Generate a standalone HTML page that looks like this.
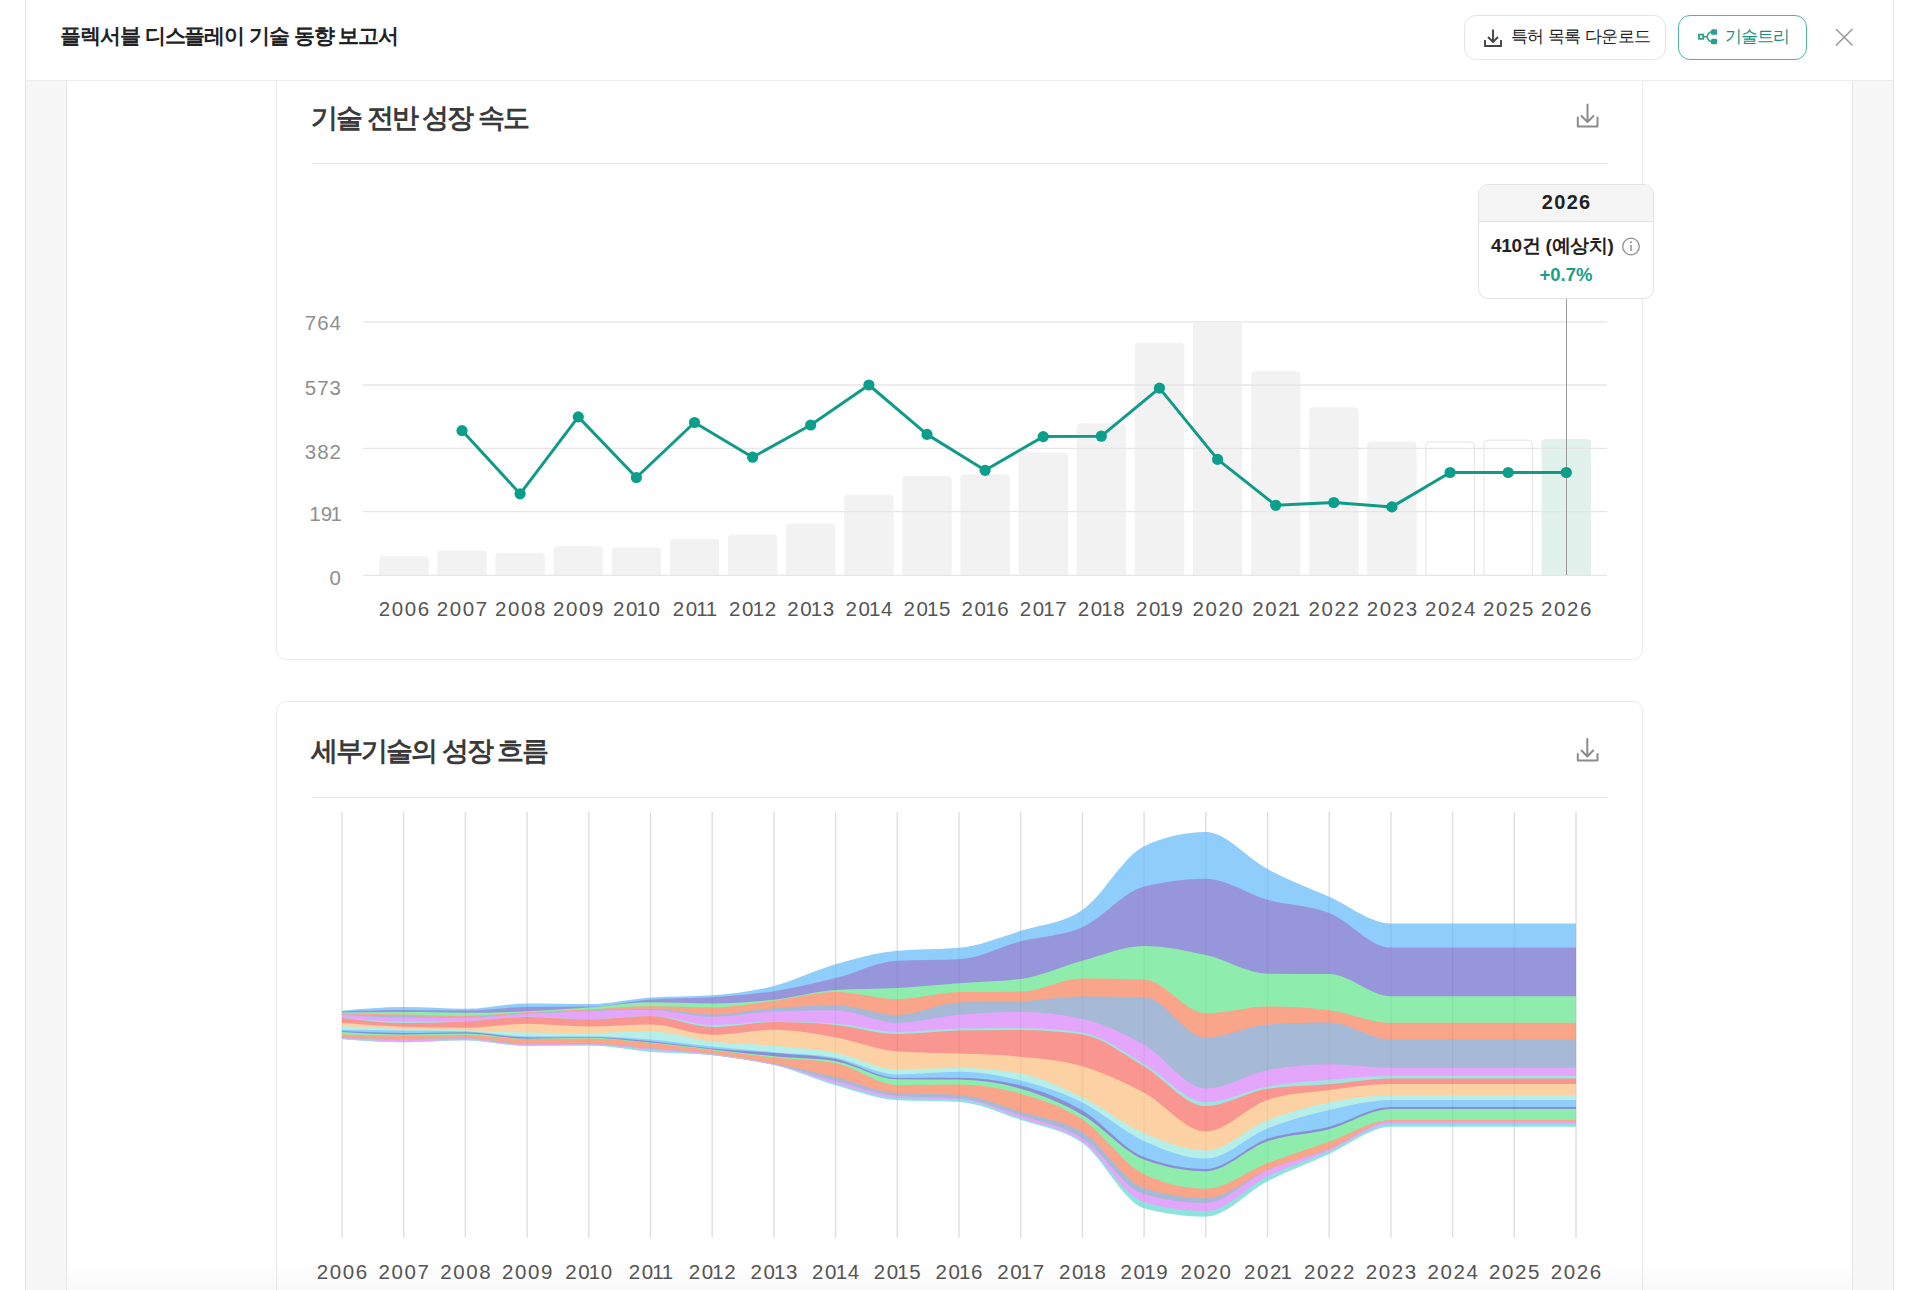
<!DOCTYPE html>
<html lang="ko">
<head>
<meta charset="utf-8">
<title>플렉서블 디스플레이 기술 동향 보고서</title>
<style>
*{box-sizing:border-box;margin:0;padding:0}
html,body{width:1920px;height:1290px;overflow:hidden;background:#fff;font-family:"Liberation Sans",sans-serif;color:#222}
.abs{position:absolute}
.frame{position:absolute;left:25px;top:0;width:1869px;height:1290px;border-left:1px solid #e3e3e3;border-right:1px solid #e3e3e3;background:#fff}
.hdr{position:absolute;left:26px;top:0;width:1867px;height:81px;border-bottom:1px solid #ececec;background:#fff}
.title{position:absolute;left:60px;top:22px;font-size:21px;font-weight:bold;color:#222;white-space:nowrap;letter-spacing:-1.05px}
.btn{position:absolute;top:15px;height:45px;border-radius:12px;background:#fff;display:flex;align-items:center;white-space:nowrap;font-size:17px}
.btn1{left:1464px;width:202px;border:1px solid #e4e4e4;color:#333}
.btn2{left:1678px;width:129px;border:1.7px solid #52b4a3;color:#1d9a87}
.side{position:absolute;top:81px;height:1209px;background:#f7f7f7}
.card{position:absolute;left:276px;width:1367px;border:1px solid #ebebeb;border-radius:10px;background:#fff}
.ctitle{position:absolute;left:311px;font-size:27px;font-weight:bold;color:#3a3a3a;white-space:nowrap;letter-spacing:-2px}
.sep{position:absolute;left:312px;width:1296px;height:1px;background:#e8e8e8}
.yl{position:absolute;left:282px;width:60px;text-align:right;font-size:20.5px;line-height:24px;color:#8f8f8f;letter-spacing:1px}
.xl{position:absolute;width:80px;text-align:center;font-size:20.5px;line-height:24px;color:#555;letter-spacing:1.6px;padding-left:1.6px}
.o{margin-left:-2.5px;margin-right:-1px}
.tip{position:absolute;left:1478px;top:184px;width:176px;height:115px;border:1px solid #e2e2e2;border-radius:10px;background:#fff;overflow:hidden}
.tiph{height:37px;background:#f5f5f5;border-bottom:1px solid #e4e4e4;text-align:center;font-weight:bold;font-size:20px;line-height:34px;color:#222;letter-spacing:1.3px;padding-left:1.3px}
</style>
</head>
<body>
<div class="frame"></div>

<!-- side panels -->
<div class="side" style="left:26px;width:41px;border-right:1px solid #e6e6e6"></div>
<div class="side" style="left:1852px;width:41px;border-left:1px solid #e6e6e6"></div>

<!-- card 1 (scrolled, top hidden under header) -->
<div class="card" style="top:40px;height:620px"></div>
<div class="ctitle" style="top:100px">기술 전반 성장 속도</div>
<svg class="abs" style="left:1570px;top:98px" width="36" height="36" viewBox="1570 98 36 36">
  <path d="M1587.5,104.5V122 M1581.5,116 L1587.5,122 L1593.5,116 M1577.8,117.5V126.5H1597.5V117.5" fill="none" stroke="#8c8c8c" stroke-width="2" stroke-linejoin="round" stroke-linecap="round"/>
</svg>
<div class="sep" style="top:163px"></div>

<svg class="abs" style="left:0;top:0" width="1920" height="700" viewBox="0 0 1920 700">
<path fill="#f2f2f2" d="M379.2,575.3V560.2Q379.2,556.2 383.2,556.2H424.6Q428.6,556.2 428.6,560.2V575.3Z"/>
<path fill="#f2f2f2" d="M437.3,575.3V554.6Q437.3,550.6 441.3,550.6H482.7Q486.7,550.6 486.7,554.6V575.3Z"/>
<path fill="#f2f2f2" d="M495.4,575.3V557.1Q495.4,553.1 499.4,553.1H540.8Q544.8,553.1 544.8,557.1V575.3Z"/>
<path fill="#f2f2f2" d="M553.6,575.3V550.2Q553.6,546.2 557.6,546.2H599Q603,546.2 603,550.2V575.3Z"/>
<path fill="#f2f2f2" d="M611.7,575.3V551.5Q611.7,547.5 615.7,547.5H657.1Q661.1,547.5 661.1,551.5V575.3Z"/>
<path fill="#f2f2f2" d="M669.8,575.3V543Q669.8,539 673.8,539H715.2Q719.2,539 719.2,543V575.3Z"/>
<path fill="#f2f2f2" d="M727.9,575.3V538.4Q727.9,534.4 731.9,534.4H773.3Q777.3,534.4 777.3,538.4V575.3Z"/>
<path fill="#f2f2f2" d="M786,575.3V527.4Q786,523.4 790,523.4H831.4Q835.4,523.4 835.4,527.4V575.3Z"/>
<path fill="#f2f2f2" d="M844.2,575.3V498.7Q844.2,494.7 848.2,494.7H889.6Q893.6,494.7 893.6,498.7V575.3Z"/>
<path fill="#f2f2f2" d="M902.3,575.3V479.9Q902.3,475.9 906.3,475.9H947.7Q951.7,475.9 951.7,479.9V575.3Z"/>
<path fill="#f2f2f2" d="M960.4,575.3V478.4Q960.4,474.4 964.4,474.4H1005.8Q1009.8,474.4 1009.8,478.4V575.3Z"/>
<path fill="#f2f2f2" d="M1018.5,575.3V456.2Q1018.5,452.2 1022.5,452.2H1063.9Q1067.9,452.2 1067.9,456.2V575.3Z"/>
<path fill="#f2f2f2" d="M1076.6,575.3V427.4Q1076.6,423.4 1080.6,423.4H1122Q1126,423.4 1126,427.4V575.3Z"/>
<path fill="#f2f2f2" d="M1134.8,575.3V346.8Q1134.8,342.8 1138.8,342.8H1180.2Q1184.2,342.8 1184.2,346.8V575.3Z"/>
<path fill="#f2f2f2" d="M1192.9,575.3V326.5Q1192.9,322.5 1196.9,322.5H1238.3Q1242.3,322.5 1242.3,326.5V575.3Z"/>
<path fill="#f2f2f2" d="M1251,575.3V375.2Q1251,371.2 1255,371.2H1296.4Q1300.4,371.2 1300.4,375.2V575.3Z"/>
<path fill="#f2f2f2" d="M1309.1,575.3V411.2Q1309.1,407.2 1313.1,407.2H1354.5Q1358.5,407.2 1358.5,411.2V575.3Z"/>
<path fill="#f2f2f2" d="M1367.2,575.3V445.6Q1367.2,441.6 1371.2,441.6H1412.6Q1416.6,441.6 1416.6,445.6V575.3Z"/>
<path fill="#fff" stroke="#e3e3e3" stroke-width="1" d="M1425.9,575.3V446Q1425.9,442 1429.9,442H1470.3Q1474.3,442 1474.3,446V575.3Z"/>
<path fill="#fff" stroke="#e3e3e3" stroke-width="1" d="M1484,575.3V444.2Q1484,440.2 1488,440.2H1528.4Q1532.4,440.2 1532.4,444.2V575.3Z"/>
<path fill="#e1f1ec" d="M1541.6,575.3V443Q1541.6,439 1545.6,439H1587Q1591,439 1591,443V575.3Z"/>
<line x1="363" x2="1607" y1="321.8" y2="321.8" stroke="#e6e6e6" stroke-width="1.3"/>
<line x1="363" x2="1607" y1="385" y2="385" stroke="#e6e6e6" stroke-width="1.3"/>
<line x1="363" x2="1607" y1="448.3" y2="448.3" stroke="#e6e6e6" stroke-width="1.3"/>
<line x1="363" x2="1607" y1="511.6" y2="511.6" stroke="#e6e6e6" stroke-width="1.3"/>
<line x1="363" x2="1607" y1="575.3" y2="575.3" stroke="#e6e6e6" stroke-width="1.3"/>
<line x1="1566.5" x2="1566.5" y1="298" y2="575" stroke="#9a9a9a" stroke-width="1"/>
<path d="M462,430.6 L520.1,493.8 L578.3,416.9 L636.4,477.5 L694.5,422.5 L752.6,457.2 L810.7,425 L868.9,385 L927,434.4 L985.1,470.3 L1043.2,436.6 L1101.3,436.2 L1159.5,388.1 L1217.6,459.4 L1275.7,505.3 L1333.8,502.5 L1391.9,506.9 L1450.1,472.5 L1508.2,472.5 L1566.3,472.5" fill="none" stroke="#109a88" stroke-width="3" stroke-linejoin="round"/>
<circle cx="462" cy="430.6" r="5.6" fill="#0a9e8b"/>
<circle cx="520.1" cy="493.8" r="5.6" fill="#0a9e8b"/>
<circle cx="578.3" cy="416.9" r="5.6" fill="#0a9e8b"/>
<circle cx="636.4" cy="477.5" r="5.6" fill="#0a9e8b"/>
<circle cx="694.5" cy="422.5" r="5.6" fill="#0a9e8b"/>
<circle cx="752.6" cy="457.2" r="5.6" fill="#0a9e8b"/>
<circle cx="810.7" cy="425" r="5.6" fill="#0a9e8b"/>
<circle cx="868.9" cy="385" r="5.6" fill="#0a9e8b"/>
<circle cx="927" cy="434.4" r="5.6" fill="#0a9e8b"/>
<circle cx="985.1" cy="470.3" r="5.6" fill="#0a9e8b"/>
<circle cx="1043.2" cy="436.6" r="5.6" fill="#0a9e8b"/>
<circle cx="1101.3" cy="436.2" r="5.6" fill="#0a9e8b"/>
<circle cx="1159.5" cy="388.1" r="5.6" fill="#0a9e8b"/>
<circle cx="1217.6" cy="459.4" r="5.6" fill="#0a9e8b"/>
<circle cx="1275.7" cy="505.3" r="5.6" fill="#0a9e8b"/>
<circle cx="1333.8" cy="502.5" r="5.6" fill="#0a9e8b"/>
<circle cx="1391.9" cy="506.9" r="5.6" fill="#0a9e8b"/>
<circle cx="1450.1" cy="472.5" r="5.6" fill="#0a9e8b"/>
<circle cx="1508.2" cy="472.5" r="5.6" fill="#0a9e8b"/>
<circle cx="1566.3" cy="472.5" r="5.6" fill="#0a9e8b"/>
</svg>
<div class="yl" style="top:310.8px">764</div>
<div class="yl" style="top:376.2px">573</div>
<div class="yl" style="top:439.7px">382</div>
<div class="yl" style="top:502.4px"><span class="o">1</span>9<span class="o">1</span></div>
<div class="yl" style="top:565.5px">0</div>
<div class="xl" style="left:363.9px;top:597px">2006</div>
<div class="xl" style="left:422px;top:597px">2007</div>
<div class="xl" style="left:480.1px;top:597px">2008</div>
<div class="xl" style="left:538.3px;top:597px">2009</div>
<div class="xl" style="left:596.4px;top:597px">20<span class="o">1</span>0</div>
<div class="xl" style="left:654.5px;top:597px">20<span class="o">1</span><span class="o">1</span></div>
<div class="xl" style="left:712.6px;top:597px">20<span class="o">1</span>2</div>
<div class="xl" style="left:770.7px;top:597px">20<span class="o">1</span>3</div>
<div class="xl" style="left:828.9px;top:597px">20<span class="o">1</span>4</div>
<div class="xl" style="left:887px;top:597px">20<span class="o">1</span>5</div>
<div class="xl" style="left:945.1px;top:597px">20<span class="o">1</span>6</div>
<div class="xl" style="left:1003.2px;top:597px">20<span class="o">1</span>7</div>
<div class="xl" style="left:1061.3px;top:597px">20<span class="o">1</span>8</div>
<div class="xl" style="left:1119.5px;top:597px">20<span class="o">1</span>9</div>
<div class="xl" style="left:1177.6px;top:597px">2020</div>
<div class="xl" style="left:1235.7px;top:597px">202<span class="o">1</span></div>
<div class="xl" style="left:1293.8px;top:597px">2022</div>
<div class="xl" style="left:1351.9px;top:597px">2023</div>
<div class="xl" style="left:1410.1px;top:597px">2024</div>
<div class="xl" style="left:1468.2px;top:597px">2025</div>
<div class="xl" style="left:1526.3px;top:597px">2026</div>

<!-- tooltip -->
<div class="tip">
  <div class="tiph">2026</div>
  <div class="abs" style="left:12px;top:48.5px;font-size:19px;font-weight:bold;color:#222;white-space:nowrap;line-height:24px;letter-spacing:-0.3px">410건 (예상치)</div>
  <svg class="abs" style="left:142px;top:52px" width="20" height="20" viewBox="0 0 20 20">
    <circle cx="10" cy="9.5" r="8.3" fill="none" stroke="#8e8e8e" stroke-width="1.3"/>
    <line x1="10" y1="8" x2="10" y2="14" stroke="#8e8e8e" stroke-width="1.5"/>
    <circle cx="10" cy="5.3" r="1" fill="#8e8e8e"/>
  </svg>
  <div class="abs" style="left:0;width:174px;top:78px;text-align:center;font-size:18.5px;font-weight:bold;color:#1a9e8a;line-height:24px">+0.7%</div>
</div>

<!-- card 2 -->
<div class="card" style="top:701px;height:700px"></div>
<div class="ctitle" style="top:733px">세부기술의 성장 흐름</div>
<svg class="abs" style="left:1570px;top:732px" width="36" height="36" viewBox="1570 732 36 36">
  <path d="M1587.3,739V756.5 M1581.5,750.5 L1587.3,756.5 L1593.1,750.5 M1577.8,754V760.4H1597.5V754" fill="none" stroke="#8c8c8c" stroke-width="2" stroke-linejoin="round" stroke-linecap="round"/>
</svg>
<div class="sep" style="top:797px"></div>

<svg class="abs" style="left:0;top:0" width="1920" height="1290" viewBox="0 0 1920 1290">
<line x1="342" x2="342" y1="812" y2="1237.5" stroke="#e8e8e8" stroke-width="1.4"/>
<line x1="403.7" x2="403.7" y1="812" y2="1237.5" stroke="#e8e8e8" stroke-width="1.4"/>
<line x1="465.4" x2="465.4" y1="812" y2="1237.5" stroke="#e8e8e8" stroke-width="1.4"/>
<line x1="527.1" x2="527.1" y1="812" y2="1237.5" stroke="#e8e8e8" stroke-width="1.4"/>
<line x1="588.8" x2="588.8" y1="812" y2="1237.5" stroke="#e8e8e8" stroke-width="1.4"/>
<line x1="650.5" x2="650.5" y1="812" y2="1237.5" stroke="#e8e8e8" stroke-width="1.4"/>
<line x1="712.2" x2="712.2" y1="812" y2="1237.5" stroke="#e8e8e8" stroke-width="1.4"/>
<line x1="773.9" x2="773.9" y1="812" y2="1237.5" stroke="#e8e8e8" stroke-width="1.4"/>
<line x1="835.6" x2="835.6" y1="812" y2="1237.5" stroke="#e8e8e8" stroke-width="1.4"/>
<line x1="897.3" x2="897.3" y1="812" y2="1237.5" stroke="#e8e8e8" stroke-width="1.4"/>
<line x1="959" x2="959" y1="812" y2="1237.5" stroke="#e8e8e8" stroke-width="1.4"/>
<line x1="1020.7" x2="1020.7" y1="812" y2="1237.5" stroke="#e8e8e8" stroke-width="1.4"/>
<line x1="1082.4" x2="1082.4" y1="812" y2="1237.5" stroke="#e8e8e8" stroke-width="1.4"/>
<line x1="1144.1" x2="1144.1" y1="812" y2="1237.5" stroke="#e8e8e8" stroke-width="1.4"/>
<line x1="1205.8" x2="1205.8" y1="812" y2="1237.5" stroke="#e8e8e8" stroke-width="1.4"/>
<line x1="1267.5" x2="1267.5" y1="812" y2="1237.5" stroke="#e8e8e8" stroke-width="1.4"/>
<line x1="1329.2" x2="1329.2" y1="812" y2="1237.5" stroke="#e8e8e8" stroke-width="1.4"/>
<line x1="1390.9" x2="1390.9" y1="812" y2="1237.5" stroke="#e8e8e8" stroke-width="1.4"/>
<line x1="1452.6" x2="1452.6" y1="812" y2="1237.5" stroke="#e8e8e8" stroke-width="1.4"/>
<line x1="1514.3" x2="1514.3" y1="812" y2="1237.5" stroke="#e8e8e8" stroke-width="1.4"/>
<line x1="1576" x2="1576" y1="812" y2="1237.5" stroke="#e8e8e8" stroke-width="1.4"/>
<path fill="#8fcdfb" d="M342,1010.7C362.6,1008.9,383.1,1007.1,403.7,1007.1C424.3,1007.1,444.8,1008.8,465.4,1008.8C486,1008.8,506.5,1003.4,527.1,1003.4C547.7,1003.4,568.2,1004.1,588.8,1004.1C609.4,1004.1,629.9,999,650.5,997.5C671.1,996,691.6,996.7,712.2,995.2C732.8,993.7,753.3,991.1,773.9,985.9C794.5,980.7,815,970.1,835.6,964.2C856.2,958.3,876.7,952.6,897.3,950.7C917.9,948.8,938.4,949.7,959,947.8C979.6,945.9,1000.1,937.1,1020.7,930.8C1041.3,924.5,1061.8,923.9,1082.4,910C1103,896.1,1123.5,855.8,1144.1,846.3C1164.7,836.8,1185.2,832.1,1205.8,832.1C1226.4,832.1,1246.9,858.3,1267.5,869.1C1288.1,879.9,1308.6,887.7,1329.2,896.7C1349.8,905.8,1370.3,923.4,1390.9,923.4C1411.5,923.4,1432,923.4,1452.6,923.4C1473.2,923.4,1493.7,923.4,1514.3,923.4C1534.9,923.4,1555.4,923.4,1576,923.4L1576,948.5C1555.4,948.5,1534.9,948.5,1514.3,948.5C1493.7,948.5,1473.2,948.5,1452.6,948.5C1432,948.5,1411.5,948.5,1390.9,948.5C1370.3,948.5,1349.8,921.8,1329.2,913.8C1308.6,905.8,1288.1,906.4,1267.5,900.7C1246.9,895,1226.4,879.7,1205.8,879.7C1185.2,879.7,1164.7,882.3,1144.1,887.5C1123.5,892.7,1103,919,1082.4,928.1C1061.8,937.2,1041.3,936.8,1020.7,942.2C1000.1,947.5,979.6,959.3,959,960.2C938.4,961.1,917.9,960.7,897.3,961.6C876.7,962.5,856.2,973.9,835.6,979C815,984.1,794.5,988.9,773.9,992.1C753.3,995.3,732.8,996.8,712.2,998.2C691.6,999.6,671.1,998.9,650.5,1000.3C629.9,1001.7,609.4,1007.3,588.8,1007.5C568.2,1007.7,547.7,1007.6,527.1,1007.8C506.5,1008,486,1011.5,465.4,1011.5C444.8,1011.5,424.3,1011,403.7,1011C383.1,1011,362.6,1011.6,342,1012.3Z"/>
<path fill="#9896db" d="M342,1011.4C362.6,1010.8,383.1,1010.1,403.7,1010.1C424.3,1010.1,444.8,1010.6,465.4,1010.6C486,1010.6,506.5,1007.1,527.1,1006.9C547.7,1006.7,568.2,1006.8,588.8,1006.6C609.4,1006.4,629.9,1000.8,650.5,999.4C671.1,998,691.6,998.7,712.2,997.3C732.8,995.9,753.3,994.4,773.9,991.2C794.5,988,815,983.2,835.6,978.1C856.2,973,876.7,961.6,897.3,960.7C917.9,959.8,938.4,960.2,959,959.3C979.6,958.4,1000.1,946.6,1020.7,941.3C1041.3,935.9,1061.8,936.3,1082.4,927.2C1103,918.1,1123.5,891.8,1144.1,886.6C1164.7,881.4,1185.2,878.8,1205.8,878.8C1226.4,878.8,1246.9,894.1,1267.5,899.8C1288.1,905.5,1308.6,904.9,1329.2,912.9C1349.8,920.9,1370.3,947.6,1390.9,947.6C1411.5,947.6,1432,947.6,1452.6,947.6C1473.2,947.6,1493.7,947.6,1514.3,947.6C1534.9,947.6,1555.4,947.6,1576,947.6L1576,997.1C1555.4,997.1,1534.9,997.1,1514.3,997.1C1493.7,997.1,1473.2,997.1,1452.6,997.1C1432,997.1,1411.5,997.1,1390.9,997.1C1370.3,997.1,1349.8,975.1,1329.2,974.9C1308.6,974.7,1288.1,974.8,1267.5,974.6C1246.9,974.4,1226.4,960.6,1205.8,956C1185.2,951.4,1164.7,946.9,1144.1,946.9C1123.5,946.9,1103,956.1,1082.4,961.6C1061.8,967.1,1041.3,977.1,1020.7,979.9C1000.1,982.7,979.6,982.6,959,984.1C938.4,985.6,917.9,987.7,897.3,988.8C876.7,989.9,856.2,989.5,835.6,990.9C815,992.3,794.5,998.4,773.9,1000.6C753.3,1002.8,732.8,1004.3,712.2,1004.3C691.6,1004.3,671.1,1003.1,650.5,1003.1C629.9,1003.1,609.4,1006.9,588.8,1008.4C568.2,1009.9,547.7,1011.3,527.1,1012.1C506.5,1013,486,1013.7,465.4,1013.7C444.8,1013.7,424.3,1013,403.7,1013C383.1,1013,362.6,1013.2,342,1013.5Z"/>
<path fill="#8eedac" d="M342,1012.6C362.6,1012.3,383.1,1012.1,403.7,1012.1C424.3,1012.1,444.8,1012.8,465.4,1012.8C486,1012.8,506.5,1012.1,527.1,1011.2C547.7,1010.4,568.2,1009,588.8,1007.5C609.4,1006,629.9,1002.2,650.5,1002.2C671.1,1002.2,691.6,1003.4,712.2,1003.4C732.8,1003.4,753.3,1001.9,773.9,999.7C794.5,997.5,815,991.4,835.6,990C856.2,988.6,876.7,989,897.3,987.9C917.9,986.8,938.4,984.7,959,983.2C979.6,981.7,1000.1,981.8,1020.7,979C1041.3,976.2,1061.8,966.2,1082.4,960.7C1103,955.2,1123.5,946,1144.1,946C1164.7,946,1185.2,950.5,1205.8,955.1C1226.4,959.7,1246.9,973.5,1267.5,973.7C1288.1,973.9,1308.6,973.8,1329.2,974C1349.8,974.2,1370.3,996.2,1390.9,996.2C1411.5,996.2,1432,996.2,1452.6,996.2C1473.2,996.2,1493.7,996.2,1514.3,996.2C1534.9,996.2,1555.4,996.2,1576,996.2L1576,1023.7C1555.4,1023.7,1534.9,1023.7,1514.3,1023.7C1493.7,1023.7,1473.2,1023.7,1452.6,1023.7C1432,1023.7,1411.5,1023.7,1390.9,1023.7C1370.3,1023.7,1349.8,1013.6,1329.2,1011.1C1308.6,1008.6,1288.1,1007.4,1267.5,1007.4C1246.9,1007.4,1226.4,1014.2,1205.8,1014.2C1185.2,1014.2,1164.7,981.2,1144.1,980.5C1123.5,979.8,1103,979.4,1082.4,979.4C1061.8,979.4,1041.3,992.2,1020.7,992.5C1000.1,992.8,979.6,992.6,959,992.9C938.4,993.2,917.9,1000,897.3,1000C876.7,1000,856.2,993,835.6,993C815,993,794.5,999.2,773.9,1001.8C753.3,1004.3,732.8,1008.3,712.2,1008.3C691.6,1008.3,671.1,1007.1,650.5,1007.1C629.9,1007.1,609.4,1009.3,588.8,1010.3C568.2,1011.3,547.7,1012,527.1,1013.1C506.5,1014.2,486,1016.8,465.4,1016.8C444.8,1016.8,424.3,1015.9,403.7,1015.5C383.1,1015.1,362.6,1014.9,342,1014.7Z"/>
<path fill="#f9a589" d="M342,1013.8C362.6,1014,383.1,1014.2,403.7,1014.6C424.3,1015,444.8,1015.9,465.4,1015.9C486,1015.9,506.5,1013.3,527.1,1012.2C547.7,1011.1,568.2,1010.4,588.8,1009.4C609.4,1008.4,629.9,1006.2,650.5,1006.2C671.1,1006.2,691.6,1007.4,712.2,1007.4C732.8,1007.4,753.3,1003.4,773.9,1000.9C794.5,998.4,815,992.1,835.6,992.1C856.2,992.1,876.7,999.1,897.3,999.1C917.9,999.1,938.4,992.3,959,992C979.6,991.7,1000.1,991.9,1020.7,991.6C1041.3,991.3,1061.8,978.5,1082.4,978.5C1103,978.5,1123.5,978.9,1144.1,979.6C1164.7,980.3,1185.2,1013.3,1205.8,1013.3C1226.4,1013.3,1246.9,1006.5,1267.5,1006.5C1288.1,1006.5,1308.6,1007.7,1329.2,1010.2C1349.8,1012.7,1370.3,1022.8,1390.9,1022.8C1411.5,1022.8,1432,1022.8,1452.6,1022.8C1473.2,1022.8,1493.7,1022.8,1514.3,1022.8C1534.9,1022.8,1555.4,1022.8,1576,1022.8L1576,1040.3C1555.4,1040.3,1534.9,1040.3,1514.3,1040.3C1493.7,1040.3,1473.2,1040.3,1452.6,1040.3C1432,1040.3,1411.5,1040.3,1390.9,1040.3C1370.3,1040.3,1349.8,1023.3,1329.2,1023.3C1308.6,1023.3,1288.1,1024,1267.5,1025.5C1246.9,1027,1226.4,1038.6,1205.8,1038.6C1185.2,1038.6,1164.7,998.5,1144.1,998C1123.5,997.5,1103,997.3,1082.4,997.3C1061.8,997.3,1041.3,1001.2,1020.7,1002.1C1000.1,1003,979.6,1002.6,959,1003.5C938.4,1004.4,917.9,1016,897.3,1016C876.7,1016,856.2,1006.2,835.6,1006.2C815,1006.2,794.5,1007.7,773.9,1009.2C753.3,1010.7,732.8,1015.3,712.2,1015.3C691.6,1015.3,671.1,1009.6,650.5,1009.6C629.9,1009.6,609.4,1010.8,588.8,1011.5C568.2,1012.2,547.7,1013,527.1,1014C506.5,1015,486,1017.8,465.4,1017.8C444.8,1017.8,424.3,1017.2,403.7,1016.8C383.1,1016.4,362.6,1015.7,342,1015.1Z"/>
<path fill="#a6b9d6" d="M342,1014.2C362.6,1014.8,383.1,1015.5,403.7,1015.9C424.3,1016.3,444.8,1016.9,465.4,1016.9C486,1016.9,506.5,1014.1,527.1,1013.1C547.7,1012.1,568.2,1011.3,588.8,1010.6C609.4,1009.9,629.9,1008.8,650.5,1008.8C671.1,1008.8,691.6,1014.4,712.2,1014.4C732.8,1014.4,753.3,1009.8,773.9,1008.3C794.5,1006.8,815,1005.3,835.6,1005.3C856.2,1005.3,876.7,1015.1,897.3,1015.1C917.9,1015.1,938.4,1003.5,959,1002.6C979.6,1001.7,1000.1,1002.1,1020.7,1001.2C1041.3,1000.3,1061.8,996.4,1082.4,996.4C1103,996.4,1123.5,996.6,1144.1,997.1C1164.7,997.6,1185.2,1037.7,1205.8,1037.7C1226.4,1037.7,1246.9,1026.1,1267.5,1024.6C1288.1,1023.1,1308.6,1022.4,1329.2,1022.4C1349.8,1022.4,1370.3,1039.4,1390.9,1039.4C1411.5,1039.4,1432,1039.4,1452.6,1039.4C1473.2,1039.4,1493.7,1039.4,1514.3,1039.4C1534.9,1039.4,1555.4,1039.4,1576,1039.4L1576,1068.7C1555.4,1068.7,1534.9,1068.7,1514.3,1068.7C1493.7,1068.7,1473.2,1068.7,1452.6,1068.7C1432,1068.7,1411.5,1068.7,1390.9,1068.7C1370.3,1068.7,1349.8,1065.1,1329.2,1065.1C1308.6,1065.1,1288.1,1067.1,1267.5,1071.1C1246.9,1075.1,1226.4,1089.5,1205.8,1089.5C1185.2,1089.5,1164.7,1057.2,1144.1,1045.6C1123.5,1034,1103,1024.6,1082.4,1019.9C1061.8,1015.2,1041.3,1012.9,1020.7,1012.9C1000.1,1012.9,979.6,1013.9,959,1015.7C938.4,1017.5,917.9,1023.7,897.3,1023.7C876.7,1023.7,856.2,1011.1,835.6,1011.1C815,1011.1,794.5,1011.5,773.9,1012.4C753.3,1013.3,732.8,1017.7,712.2,1017.7C691.6,1017.7,671.1,1010.9,650.5,1010.9C629.9,1010.9,609.4,1011.5,588.8,1012.1C568.2,1012.8,547.7,1013.6,527.1,1014.6C506.5,1015.7,486,1018.7,465.4,1018.7C444.8,1018.7,424.3,1018.6,403.7,1018.5C383.1,1018.4,362.6,1017,342,1015.6Z"/>
<path fill="#e4a6fb" d="M342,1014.7C362.6,1016.1,383.1,1017.5,403.7,1017.6C424.3,1017.7,444.8,1017.8,465.4,1017.8C486,1017.8,506.5,1014.8,527.1,1013.8C547.7,1012.7,568.2,1011.9,588.8,1011.2C609.4,1010.6,629.9,1010,650.5,1010C671.1,1010,691.6,1016.8,712.2,1016.8C732.8,1016.8,753.3,1012.4,773.9,1011.5C794.5,1010.6,815,1010.2,835.6,1010.2C856.2,1010.2,876.7,1022.8,897.3,1022.8C917.9,1022.8,938.4,1016.6,959,1014.8C979.6,1013,1000.1,1012,1020.7,1012C1041.3,1012,1061.8,1014.3,1082.4,1019C1103,1023.7,1123.5,1033.1,1144.1,1044.7C1164.7,1056.3,1185.2,1088.6,1205.8,1088.6C1226.4,1088.6,1246.9,1074.2,1267.5,1070.2C1288.1,1066.2,1308.6,1064.2,1329.2,1064.2C1349.8,1064.2,1370.3,1067.8,1390.9,1067.8C1411.5,1067.8,1432,1067.8,1452.6,1067.8C1473.2,1067.8,1493.7,1067.8,1514.3,1067.8C1534.9,1067.8,1555.4,1067.8,1576,1067.8L1576,1077C1555.4,1077,1534.9,1077,1514.3,1077C1493.7,1077,1473.2,1077,1452.6,1077C1432,1077,1411.5,1077,1390.9,1077C1370.3,1077,1349.8,1079,1329.2,1080.7C1308.6,1082.4,1288.1,1083.7,1267.5,1087.4C1246.9,1091.2,1226.4,1103.2,1205.8,1103.2C1185.2,1103.2,1164.7,1076.6,1144.1,1065C1123.5,1053.4,1103,1036.6,1082.4,1033.5C1061.8,1030.4,1041.3,1028.9,1020.7,1028.9C1000.1,1028.9,979.6,1029,959,1029.3C938.4,1029.6,917.9,1032.8,897.3,1032.8C876.7,1032.8,856.2,1025.7,835.6,1024.4C815,1023.1,794.5,1022.4,773.9,1022.4C753.3,1022.4,732.8,1025.9,712.2,1025.9C691.6,1025.9,671.1,1016.6,650.5,1016.6C629.9,1016.6,609.4,1020.1,588.8,1020.1C568.2,1020.1,547.7,1017.6,527.1,1017.6C506.5,1017.6,486,1022.1,465.4,1022.3C444.8,1022.5,424.3,1022.5,403.7,1022.5C383.1,1022.5,362.6,1020.6,342,1018.7Z"/>
<path fill="#a2e2e0" d="M342,1017.8C362.6,1019.7,383.1,1021.6,403.7,1021.6C424.3,1021.6,444.8,1021.6,465.4,1021.4C486,1021.2,506.5,1016.7,527.1,1016.7C547.7,1016.7,568.2,1019.2,588.8,1019.2C609.4,1019.2,629.9,1015.7,650.5,1015.7C671.1,1015.7,691.6,1025,712.2,1025C732.8,1025,753.3,1021.5,773.9,1021.5C794.5,1021.5,815,1022.2,835.6,1023.5C856.2,1024.8,876.7,1031.9,897.3,1031.9C917.9,1031.9,938.4,1028.7,959,1028.4C979.6,1028.1,1000.1,1028,1020.7,1028C1041.3,1028,1061.8,1029.5,1082.4,1032.6C1103,1035.7,1123.5,1052.5,1144.1,1064.1C1164.7,1075.7,1185.2,1102.3,1205.8,1102.3C1226.4,1102.3,1246.9,1090.2,1267.5,1086.5C1288.1,1082.8,1308.6,1081.5,1329.2,1079.8C1349.8,1078.1,1370.3,1076.1,1390.9,1076.1C1411.5,1076.1,1432,1076.1,1452.6,1076.1C1473.2,1076.1,1493.7,1076.1,1514.3,1076.1C1534.9,1076.1,1555.4,1076.1,1576,1076.1L1576,1079.3C1555.4,1079.3,1534.9,1079.3,1514.3,1079.3C1493.7,1079.3,1473.2,1079.3,1452.6,1079.3C1432,1079.3,1411.5,1079.3,1390.9,1079.3C1370.3,1079.3,1349.8,1083.5,1329.2,1085.2C1308.6,1086.9,1288.1,1086.7,1267.5,1089.7C1246.9,1092.7,1226.4,1107,1205.8,1107C1185.2,1107,1164.7,1079.2,1144.1,1067.3C1123.5,1055.4,1103,1038.5,1082.4,1035.4C1061.8,1032.3,1041.3,1030.8,1020.7,1030.8C1000.1,1030.8,979.6,1031,959,1031.3C938.4,1031.6,917.9,1034.9,897.3,1034.9C876.7,1034.9,856.2,1027.7,835.6,1025.8C815,1023.9,794.5,1023,773.9,1023C753.3,1023,732.8,1027.9,712.2,1027.9C691.6,1027.9,671.1,1016.8,650.5,1016.8C629.9,1016.8,609.4,1020.3,588.8,1020.3C568.2,1020.3,547.7,1017.8,527.1,1017.8C506.5,1017.8,486,1021.5,465.4,1022.5C444.8,1023.5,424.3,1024,403.7,1024C383.1,1024,362.6,1021.5,342,1018.9Z"/>
<path fill="#f8968f" d="M342,1018C362.6,1020.5,383.1,1023.1,403.7,1023.1C424.3,1023.1,444.8,1022.6,465.4,1021.6C486,1020.6,506.5,1016.9,527.1,1016.9C547.7,1016.9,568.2,1019.4,588.8,1019.4C609.4,1019.4,629.9,1015.9,650.5,1015.9C671.1,1015.9,691.6,1027,712.2,1027C732.8,1027,753.3,1022.1,773.9,1022.1C794.5,1022.1,815,1023,835.6,1024.9C856.2,1026.8,876.7,1034,897.3,1034C917.9,1034,938.4,1030.7,959,1030.4C979.6,1030.1,1000.1,1029.9,1020.7,1029.9C1041.3,1029.9,1061.8,1031.4,1082.4,1034.5C1103,1037.6,1123.5,1054.5,1144.1,1066.4C1164.7,1078.3,1185.2,1106.1,1205.8,1106.1C1226.4,1106.1,1246.9,1091.8,1267.5,1088.8C1288.1,1085.8,1308.6,1086,1329.2,1084.3C1349.8,1082.6,1370.3,1078.4,1390.9,1078.4C1411.5,1078.4,1432,1078.4,1452.6,1078.4C1473.2,1078.4,1493.7,1078.4,1514.3,1078.4C1534.9,1078.4,1555.4,1078.4,1576,1078.4L1576,1084.8C1555.4,1084.8,1534.9,1084.8,1514.3,1084.8C1493.7,1084.8,1473.2,1084.8,1452.6,1084.8C1432,1084.8,1411.5,1084.8,1390.9,1084.8C1370.3,1084.8,1349.8,1088.1,1329.2,1090.8C1308.6,1093.5,1288.1,1094.1,1267.5,1100.8C1246.9,1107.5,1226.4,1132.4,1205.8,1132.4C1185.2,1132.4,1164.7,1104.6,1144.1,1093.7C1123.5,1082.8,1103,1073.1,1082.4,1067.1C1061.8,1061.1,1041.3,1059.7,1020.7,1057.6C1000.1,1055.5,979.6,1055.4,959,1054.5C938.4,1053.6,917.9,1053.8,897.3,1052.3C876.7,1050.8,856.2,1041.9,835.6,1038.3C815,1034.7,794.5,1030.7,773.9,1030.7C753.3,1030.7,732.8,1035.6,712.2,1035.6C691.6,1035.6,671.1,1025.3,650.5,1025.3C629.9,1025.3,609.4,1027.5,588.8,1027.5C568.2,1027.5,547.7,1024.7,527.1,1024.7C506.5,1024.7,486,1028.7,465.4,1028.7C444.8,1028.7,424.3,1028.4,403.7,1027.7C383.1,1027,362.6,1025.5,342,1024Z"/>
<path fill="#fcd2a4" d="M342,1023.1C362.6,1024.6,383.1,1026.1,403.7,1026.8C424.3,1027.5,444.8,1027.8,465.4,1027.8C486,1027.8,506.5,1023.8,527.1,1023.8C547.7,1023.8,568.2,1026.6,588.8,1026.6C609.4,1026.6,629.9,1024.4,650.5,1024.4C671.1,1024.4,691.6,1034.7,712.2,1034.7C732.8,1034.7,753.3,1029.8,773.9,1029.8C794.5,1029.8,815,1033.8,835.6,1037.4C856.2,1041,876.7,1049.9,897.3,1051.4C917.9,1052.9,938.4,1052.7,959,1053.6C979.6,1054.5,1000.1,1054.6,1020.7,1056.7C1041.3,1058.8,1061.8,1060.2,1082.4,1066.2C1103,1072.2,1123.5,1081.9,1144.1,1092.8C1164.7,1103.7,1185.2,1131.5,1205.8,1131.5C1226.4,1131.5,1246.9,1106.6,1267.5,1099.9C1288.1,1093.2,1308.6,1092.6,1329.2,1089.9C1349.8,1087.2,1370.3,1083.9,1390.9,1083.9C1411.5,1083.9,1432,1083.9,1452.6,1083.9C1473.2,1083.9,1493.7,1083.9,1514.3,1083.9C1534.9,1083.9,1555.4,1083.9,1576,1083.9L1576,1096.3C1555.4,1096.3,1534.9,1096.3,1514.3,1096.3C1493.7,1096.3,1473.2,1096.3,1452.6,1096.3C1432,1096.3,1411.5,1096.3,1390.9,1096.3C1370.3,1096.3,1349.8,1099.3,1329.2,1103.4C1308.6,1107.5,1288.1,1113.1,1267.5,1121.1C1246.9,1129.1,1226.4,1151.5,1205.8,1151.5C1185.2,1151.5,1164.7,1142.9,1144.1,1134C1123.5,1125.2,1103,1108.3,1082.4,1098.4C1061.8,1088.5,1041.3,1078.1,1020.7,1074.4C1000.1,1070.7,979.6,1068.9,959,1068.9C938.4,1068.9,917.9,1070.4,897.3,1070.4C876.7,1070.4,856.2,1057.7,835.6,1053.7C815,1049.7,794.5,1048.5,773.9,1046.6C753.3,1044.7,732.8,1044.8,712.2,1042.5C691.6,1040.2,671.1,1032.5,650.5,1032.5C629.9,1032.5,609.4,1034,588.8,1034C568.2,1034,547.7,1033.8,527.1,1033.4C506.5,1033,486,1031.8,465.4,1031.2C444.8,1030.6,424.3,1030.7,403.7,1030C383.1,1029.3,362.6,1028,342,1026.8Z"/>
<path fill="#b6efe9" d="M342,1025.9C362.6,1027.1,383.1,1028.4,403.7,1029.1C424.3,1029.8,444.8,1029.7,465.4,1030.3C486,1030.9,506.5,1032.1,527.1,1032.5C547.7,1032.9,568.2,1033.1,588.8,1033.1C609.4,1033.1,629.9,1031.6,650.5,1031.6C671.1,1031.6,691.6,1039.2,712.2,1041.6C732.8,1043.9,753.3,1043.8,773.9,1045.7C794.5,1047.6,815,1048.8,835.6,1052.8C856.2,1056.8,876.7,1069.5,897.3,1069.5C917.9,1069.5,938.4,1068,959,1068C979.6,1068,1000.1,1069.8,1020.7,1073.5C1041.3,1077.2,1061.8,1087.6,1082.4,1097.5C1103,1107.4,1123.5,1124.2,1144.1,1133.1C1164.7,1142,1185.2,1150.6,1205.8,1150.6C1226.4,1150.6,1246.9,1128.2,1267.5,1120.2C1288.1,1112.2,1308.6,1106.6,1329.2,1102.5C1349.8,1098.4,1370.3,1095.4,1390.9,1095.4C1411.5,1095.4,1432,1095.4,1452.6,1095.4C1473.2,1095.4,1493.7,1095.4,1514.3,1095.4C1534.9,1095.4,1555.4,1095.4,1576,1095.4L1576,1100.9C1555.4,1100.9,1534.9,1100.9,1514.3,1100.9C1493.7,1100.9,1473.2,1100.9,1452.6,1100.9C1432,1100.9,1411.5,1100.9,1390.9,1100.9C1370.3,1100.9,1349.8,1106.2,1329.2,1110.9C1308.6,1115.6,1288.1,1121.2,1267.5,1129.3C1246.9,1137.4,1226.4,1159.4,1205.8,1159.4C1185.2,1159.4,1164.7,1151.2,1144.1,1141.8C1123.5,1132.5,1103,1113.4,1082.4,1103.3C1061.8,1093.2,1041.3,1086.5,1020.7,1081.4C1000.1,1076.3,979.6,1072.6,959,1072.6C938.4,1072.6,917.9,1075.3,897.3,1075.3C876.7,1075.3,856.2,1062.3,835.6,1058.6C815,1054.9,794.5,1055,773.9,1053.1C753.3,1051.2,732.8,1049.5,712.2,1047.4C691.6,1045.3,671.1,1042,650.5,1040.3C629.9,1038.6,609.4,1037.2,588.8,1037.2C568.2,1037.2,547.7,1037.2,527.1,1037.2C506.5,1037.2,486,1032.8,465.4,1032.2C444.8,1031.6,424.3,1031.6,403.7,1031.3C383.1,1031,362.6,1030.8,342,1030.6Z"/>
<path fill="#8fcdfb" d="M342,1029.7C362.6,1029.9,383.1,1030.1,403.7,1030.4C424.3,1030.7,444.8,1030.7,465.4,1031.3C486,1031.9,506.5,1036.2,527.1,1036.2C547.7,1036.2,568.2,1036.2,588.8,1036.2C609.4,1036.2,629.9,1037.7,650.5,1039.4C671.1,1041.1,691.6,1044.4,712.2,1046.5C732.8,1048.6,753.3,1050.3,773.9,1052.2C794.5,1054.1,815,1054,835.6,1057.7C856.2,1061.4,876.7,1074.4,897.3,1074.4C917.9,1074.4,938.4,1071.7,959,1071.7C979.6,1071.7,1000.1,1075.4,1020.7,1080.5C1041.3,1085.6,1061.8,1092.3,1082.4,1102.4C1103,1112.5,1123.5,1131.6,1144.1,1140.9C1164.7,1150.3,1185.2,1158.5,1205.8,1158.5C1226.4,1158.5,1246.9,1136.5,1267.5,1128.4C1288.1,1120.3,1308.6,1114.7,1329.2,1110C1349.8,1105.3,1370.3,1100,1390.9,1100C1411.5,1100,1432,1100,1452.6,1100C1473.2,1100,1493.7,1100,1514.3,1100C1534.9,1100,1555.4,1100,1576,1100L1576,1107.9C1555.4,1107.9,1534.9,1107.9,1514.3,1107.9C1493.7,1107.9,1473.2,1107.9,1452.6,1107.9C1432,1107.9,1411.5,1107.9,1390.9,1107.9C1370.3,1107.9,1349.8,1122.3,1329.2,1127.6C1308.6,1132.9,1288.1,1132.7,1267.5,1139.7C1246.9,1146.8,1226.4,1169.9,1205.8,1169.9C1185.2,1169.9,1164.7,1165.9,1144.1,1158C1123.5,1150.1,1103,1123.4,1082.4,1111.4C1061.8,1099.5,1041.3,1091.4,1020.7,1086.3C1000.1,1081.2,979.6,1078.7,959,1078.7C938.4,1078.7,917.9,1078.8,897.3,1078.8C876.7,1078.8,856.2,1063.9,835.6,1059.9C815,1055.9,794.5,1055.7,773.9,1053.9C753.3,1052.2,732.8,1051.4,712.2,1049.4C691.6,1047.4,671.1,1044,650.5,1042.2C629.9,1040.3,609.4,1038.1,588.8,1038.1C568.2,1038.1,547.7,1038.4,527.1,1038.4C506.5,1038.4,486,1033.1,465.4,1033.1C444.8,1033.1,424.3,1033.9,403.7,1033.9C383.1,1033.9,362.6,1033,342,1032Z"/>
<path fill="#8a8fd3" d="M342,1031.1C362.6,1032,383.1,1033,403.7,1033C424.3,1033,444.8,1032.2,465.4,1032.2C486,1032.2,506.5,1037.5,527.1,1037.5C547.7,1037.5,568.2,1037.2,588.8,1037.2C609.4,1037.2,629.9,1039.4,650.5,1041.2C671.1,1043.1,691.6,1046.5,712.2,1048.5C732.8,1050.5,753.3,1051.2,773.9,1053C794.5,1054.8,815,1055,835.6,1059C856.2,1063,876.7,1077.9,897.3,1077.9C917.9,1077.9,938.4,1077.8,959,1077.8C979.6,1077.8,1000.1,1080.3,1020.7,1085.4C1041.3,1090.5,1061.8,1098.5,1082.4,1110.5C1103,1122.5,1123.5,1149.2,1144.1,1157.1C1164.7,1165,1185.2,1169,1205.8,1169C1226.4,1169,1246.9,1145.8,1267.5,1138.8C1288.1,1131.8,1308.6,1132,1329.2,1126.7C1349.8,1121.4,1370.3,1107,1390.9,1107C1411.5,1107,1432,1107,1452.6,1107C1473.2,1107,1493.7,1107,1514.3,1107C1534.9,1107,1555.4,1107,1576,1107L1576,1109.9C1555.4,1109.9,1534.9,1109.9,1514.3,1109.9C1493.7,1109.9,1473.2,1109.9,1452.6,1109.9C1432,1109.9,1411.5,1109.9,1390.9,1109.9C1370.3,1109.9,1349.8,1124.7,1329.2,1130.1C1308.6,1135.5,1288.1,1135.1,1267.5,1142.1C1246.9,1149.1,1226.4,1172.1,1205.8,1172.1C1185.2,1172.1,1164.7,1168.2,1144.1,1160.4C1123.5,1152.6,1103,1127.6,1082.4,1115.8C1061.8,1104,1041.3,1095.6,1020.7,1089.7C1000.1,1083.8,979.6,1080.7,959,1080.5C938.4,1080.3,917.9,1080.4,897.3,1080.2C876.7,1080,856.2,1065.4,835.6,1062.1C815,1058.8,794.5,1059.2,773.9,1057.2C753.3,1055.2,732.8,1052.6,712.2,1050.3C691.6,1048,671.1,1045.3,650.5,1043.4C629.9,1041.5,609.4,1038.7,588.8,1038.7C568.2,1038.7,547.7,1039.7,527.1,1039.7C506.5,1039.7,486,1034.3,465.4,1034.3C444.8,1034.3,424.3,1035.3,403.7,1035.3C383.1,1035.3,362.6,1034.1,342,1032.9Z"/>
<path fill="#8eedac" d="M342,1032C362.6,1033.2,383.1,1034.4,403.7,1034.4C424.3,1034.4,444.8,1033.4,465.4,1033.4C486,1033.4,506.5,1038.8,527.1,1038.8C547.7,1038.8,568.2,1037.8,588.8,1037.8C609.4,1037.8,629.9,1040.6,650.5,1042.5C671.1,1044.4,691.6,1047.1,712.2,1049.4C732.8,1051.7,753.3,1054.3,773.9,1056.3C794.5,1058.3,815,1057.9,835.6,1061.2C856.2,1064.5,876.7,1079.1,897.3,1079.3C917.9,1079.5,938.4,1079.4,959,1079.6C979.6,1079.8,1000.1,1082.9,1020.7,1088.8C1041.3,1094.7,1061.8,1103.1,1082.4,1114.9C1103,1126.7,1123.5,1151.7,1144.1,1159.5C1164.7,1167.3,1185.2,1171.2,1205.8,1171.2C1226.4,1171.2,1246.9,1148.2,1267.5,1141.2C1288.1,1134.2,1308.6,1134.6,1329.2,1129.2C1349.8,1123.8,1370.3,1109,1390.9,1109C1411.5,1109,1432,1109,1452.6,1109C1473.2,1109,1493.7,1109,1514.3,1109C1534.9,1109,1555.4,1109,1576,1109L1576,1120.9C1555.4,1120.9,1534.9,1120.9,1514.3,1120.9C1493.7,1120.9,1473.2,1120.9,1452.6,1120.9C1432,1120.9,1411.5,1120.9,1390.9,1120.9C1370.3,1120.9,1349.8,1135.5,1329.2,1142.7C1308.6,1149.9,1288.1,1156.4,1267.5,1164.2C1246.9,1172,1226.4,1189.6,1205.8,1189.6C1185.2,1189.6,1164.7,1184.8,1144.1,1175.1C1123.5,1165.4,1103,1133.8,1082.4,1120.4C1061.8,1107,1041.3,1100.4,1020.7,1094.6C1000.1,1088.8,979.6,1085.4,959,1085.4C938.4,1085.4,917.9,1085.8,897.3,1085.8C876.7,1085.8,856.2,1067.9,835.6,1064.1C815,1060.3,794.5,1060.6,773.9,1058.4C753.3,1056.2,732.8,1053.5,712.2,1051.1C691.6,1048.7,671.1,1046,650.5,1044C629.9,1042,609.4,1039.3,588.8,1039.3C568.2,1039.3,547.7,1039.9,527.1,1039.9C506.5,1039.9,486,1035.9,465.4,1035.9C444.8,1035.9,424.3,1036.4,403.7,1036.4C383.1,1036.4,362.6,1035.9,342,1035.3Z"/>
<path fill="#f9a589" d="M342,1034.4C362.6,1035,383.1,1035.5,403.7,1035.5C424.3,1035.5,444.8,1035,465.4,1035C486,1035,506.5,1039,527.1,1039C547.7,1039,568.2,1038.4,588.8,1038.4C609.4,1038.4,629.9,1041.1,650.5,1043.1C671.1,1045.1,691.6,1047.8,712.2,1050.2C732.8,1052.6,753.3,1055.3,773.9,1057.5C794.5,1059.7,815,1059.4,835.6,1063.2C856.2,1067,876.7,1084.9,897.3,1084.9C917.9,1084.9,938.4,1084.5,959,1084.5C979.6,1084.5,1000.1,1087.9,1020.7,1093.7C1041.3,1099.5,1061.8,1106.1,1082.4,1119.5C1103,1132.9,1123.5,1164.5,1144.1,1174.2C1164.7,1183.9,1185.2,1188.7,1205.8,1188.7C1226.4,1188.7,1246.9,1171.1,1267.5,1163.3C1288.1,1155.5,1308.6,1149,1329.2,1141.8C1349.8,1134.6,1370.3,1120,1390.9,1120C1411.5,1120,1432,1120,1452.6,1120C1473.2,1120,1493.7,1120,1514.3,1120C1534.9,1120,1555.4,1120,1576,1120L1576,1122.4C1555.4,1122.4,1534.9,1122.4,1514.3,1122.4C1493.7,1122.4,1473.2,1122.4,1452.6,1122.4C1432,1122.4,1411.5,1122.4,1390.9,1122.4C1370.3,1122.4,1349.8,1141.6,1329.2,1149.7C1308.6,1157.8,1288.1,1162.7,1267.5,1170.9C1246.9,1179.2,1226.4,1199.2,1205.8,1199.2C1185.2,1199.2,1164.7,1195.8,1144.1,1189C1123.5,1182.2,1103,1145.8,1082.4,1133.1C1061.8,1120.4,1041.3,1119,1020.7,1112.8C1000.1,1106.6,979.6,1096.9,959,1095.8C938.4,1094.7,917.9,1095.2,897.3,1094.1C876.7,1093,856.2,1083.1,835.6,1078.2C815,1073.3,794.5,1068.4,773.9,1064.5C753.3,1060.6,732.8,1057.3,712.2,1054.7C691.6,1052.1,671.1,1050.7,650.5,1049C629.9,1047.3,609.4,1044.7,588.8,1044.7C568.2,1044.7,547.7,1044.7,527.1,1044.7C506.5,1044.7,486,1039,465.4,1039C444.8,1039,424.3,1039.8,403.7,1039.8C383.1,1039.8,362.6,1039.4,342,1039Z"/>
<path fill="#a6b9d6" d="M342,1038.1C362.6,1038.5,383.1,1038.9,403.7,1038.9C424.3,1038.9,444.8,1038.1,465.4,1038.1C486,1038.1,506.5,1043.8,527.1,1043.8C547.7,1043.8,568.2,1043.8,588.8,1043.8C609.4,1043.8,629.9,1046.4,650.5,1048.1C671.1,1049.8,691.6,1051.2,712.2,1053.8C732.8,1056.4,753.3,1059.7,773.9,1063.6C794.5,1067.5,815,1072.4,835.6,1077.3C856.2,1082.2,876.7,1092.1,897.3,1093.2C917.9,1094.3,938.4,1093.8,959,1094.9C979.6,1096,1000.1,1105.7,1020.7,1111.9C1041.3,1118.1,1061.8,1119.5,1082.4,1132.2C1103,1144.9,1123.5,1181.3,1144.1,1188.1C1164.7,1194.9,1185.2,1198.3,1205.8,1198.3C1226.4,1198.3,1246.9,1178.2,1267.5,1170C1288.1,1161.8,1308.6,1156.9,1329.2,1148.8C1349.8,1140.7,1370.3,1121.5,1390.9,1121.5C1411.5,1121.5,1432,1121.5,1452.6,1121.5C1473.2,1121.5,1493.7,1121.5,1514.3,1121.5C1534.9,1121.5,1555.4,1121.5,1576,1121.5L1576,1122.7C1555.4,1122.7,1534.9,1122.7,1514.3,1122.7C1493.7,1122.7,1473.2,1122.7,1452.6,1122.7C1432,1122.7,1411.5,1122.7,1390.9,1122.7C1370.3,1122.7,1349.8,1142,1329.2,1150.1C1308.6,1158.2,1288.1,1162.1,1267.5,1171.1C1246.9,1180.1,1226.4,1203.9,1205.8,1203.9C1185.2,1203.9,1164.7,1201,1144.1,1195.2C1123.5,1189.4,1103,1152.2,1082.4,1139.1C1061.8,1126,1041.3,1122.9,1020.7,1116.3C1000.1,1109.7,979.6,1100.9,959,1099.3C938.4,1097.7,917.9,1098.5,897.3,1096.9C876.7,1095.3,856.2,1087.3,835.6,1081.9C815,1076.6,794.5,1069.3,773.9,1064.8C753.3,1060.3,732.8,1057.5,712.2,1055C691.6,1052.5,671.1,1051.2,650.5,1049.5C629.9,1047.8,609.4,1044.9,588.8,1044.9C568.2,1044.9,547.7,1045.1,527.1,1045.1C506.5,1045.1,486,1039.4,465.4,1039.4C444.8,1039.4,424.3,1040.5,403.7,1040.5C383.1,1040.5,362.6,1039.8,342,1039.1Z"/>
<path fill="#e4a6fb" d="M342,1038.3C362.6,1038.9,383.1,1039.6,403.7,1039.6C424.3,1039.6,444.8,1038.5,465.4,1038.5C486,1038.5,506.5,1044.2,527.1,1044.2C547.7,1044.2,568.2,1044,588.8,1044C609.4,1044,629.9,1046.9,650.5,1048.6C671.1,1050.3,691.6,1051.5,712.2,1054.1C732.8,1056.6,753.3,1059.4,773.9,1063.9C794.5,1068.4,815,1075.7,835.6,1081C856.2,1086.3,876.7,1094.4,897.3,1096C917.9,1097.6,938.4,1096.8,959,1098.4C979.6,1100,1000.1,1108.8,1020.7,1115.4C1041.3,1122,1061.8,1125,1082.4,1138.2C1103,1151.3,1123.5,1188.5,1144.1,1194.3C1164.7,1200.1,1185.2,1203,1205.8,1203C1226.4,1203,1246.9,1179.2,1267.5,1170.2C1288.1,1161.2,1308.6,1157.3,1329.2,1149.2C1349.8,1141.1,1370.3,1121.8,1390.9,1121.8C1411.5,1121.8,1432,1121.8,1452.6,1121.8C1473.2,1121.8,1493.7,1121.8,1514.3,1121.8C1534.9,1121.8,1555.4,1121.8,1576,1121.8L1576,1124.9C1555.4,1124.9,1534.9,1124.9,1514.3,1124.9C1493.7,1124.9,1473.2,1124.9,1452.6,1124.9C1432,1124.9,1411.5,1124.9,1390.9,1124.9C1370.3,1124.9,1349.8,1143.1,1329.2,1151.8C1308.6,1160.6,1288.1,1167.4,1267.5,1177.4C1246.9,1187.4,1226.4,1211.9,1205.8,1211.9C1185.2,1211.9,1164.7,1208.9,1144.1,1203C1123.5,1197.1,1103,1156.4,1082.4,1142.4C1061.8,1128.4,1041.3,1126.1,1020.7,1119.1C1000.1,1112.1,979.6,1101.3,959,1100.4C938.4,1099.5,917.9,1099.9,897.3,1099C876.7,1098.1,856.2,1090.1,835.6,1084.4C815,1078.7,794.5,1069.7,773.9,1064.8C753.3,1059.9,732.8,1057.3,712.2,1055C691.6,1052.7,671.1,1052.5,650.5,1050.9C629.9,1049.3,609.4,1045.3,588.8,1045.3C568.2,1045.3,547.7,1045.9,527.1,1045.9C506.5,1045.9,486,1040.3,465.4,1040.3C444.8,1040.3,424.3,1042.3,403.7,1042.3C383.1,1042.3,362.6,1040.7,342,1039.1Z"/>
<path fill="#8fe3dc" d="M342,1038.6C362.6,1040.1,383.1,1041.7,403.7,1041.7C424.3,1041.7,444.8,1039.4,465.4,1039.4C486,1039.4,506.5,1045.3,527.1,1045.3C547.7,1045.3,568.2,1044.4,588.8,1044.4C609.4,1044.4,629.9,1048.3,650.5,1050C671.1,1051.7,691.6,1052.1,712.2,1054.5C732.8,1056.9,753.3,1059.5,773.9,1064.3C794.5,1069.1,815,1077.9,835.6,1083.5C856.2,1089.1,876.7,1097.2,897.3,1098.1C917.9,1099,938.4,1098.6,959,1099.5C979.6,1100.4,1000.1,1111.2,1020.7,1118.2C1041.3,1125.2,1061.8,1127.5,1082.4,1141.5C1103,1155.5,1123.5,1196.2,1144.1,1202.1C1164.7,1208,1185.2,1211,1205.8,1211C1226.4,1211,1246.9,1186.5,1267.5,1176.5C1288.1,1166.5,1308.6,1159.7,1329.2,1150.9C1349.8,1142.2,1370.3,1124,1390.9,1124C1411.5,1124,1432,1124,1452.6,1124C1473.2,1124,1493.7,1124,1514.3,1124C1534.9,1124,1555.4,1124,1576,1124L1576,1126.8C1555.4,1126.8,1534.9,1126.8,1514.3,1126.8C1493.7,1126.8,1473.2,1126.8,1452.6,1126.8C1432,1126.8,1411.5,1126.8,1390.9,1126.8C1370.3,1126.8,1349.8,1144.8,1329.2,1153.9C1308.6,1163,1288.1,1170.8,1267.5,1181.3C1246.9,1191.8,1226.4,1216.7,1205.8,1216.7C1185.2,1216.7,1164.7,1213.9,1144.1,1208.3C1123.5,1202.7,1103,1157.8,1082.4,1143.1C1061.8,1128.4,1041.3,1126.8,1020.7,1119.9C1000.1,1113,979.6,1103,959,1101.9C938.4,1100.8,917.9,1101.3,897.3,1100.2C876.7,1099.1,856.2,1091.2,835.6,1085.3C815,1079.4,794.5,1069.8,773.9,1064.8C753.3,1059.8,732.8,1057.1,712.2,1055C691.6,1052.9,671.1,1053.5,650.5,1051.9C629.9,1050.3,609.4,1045.6,588.8,1045.6C568.2,1045.6,547.7,1045.9,527.1,1045.9C506.5,1045.9,486,1040.3,465.4,1040.3C444.8,1040.3,424.3,1042.3,403.7,1042.3C383.1,1042.3,362.6,1040.7,342,1039.1Z"/>
<line x1="342" x2="342" y1="812" y2="1237.5" stroke="rgba(0,0,0,0.045)" stroke-width="1.4"/>
<line x1="403.7" x2="403.7" y1="812" y2="1237.5" stroke="rgba(0,0,0,0.045)" stroke-width="1.4"/>
<line x1="465.4" x2="465.4" y1="812" y2="1237.5" stroke="rgba(0,0,0,0.045)" stroke-width="1.4"/>
<line x1="527.1" x2="527.1" y1="812" y2="1237.5" stroke="rgba(0,0,0,0.045)" stroke-width="1.4"/>
<line x1="588.8" x2="588.8" y1="812" y2="1237.5" stroke="rgba(0,0,0,0.045)" stroke-width="1.4"/>
<line x1="650.5" x2="650.5" y1="812" y2="1237.5" stroke="rgba(0,0,0,0.045)" stroke-width="1.4"/>
<line x1="712.2" x2="712.2" y1="812" y2="1237.5" stroke="rgba(0,0,0,0.045)" stroke-width="1.4"/>
<line x1="773.9" x2="773.9" y1="812" y2="1237.5" stroke="rgba(0,0,0,0.045)" stroke-width="1.4"/>
<line x1="835.6" x2="835.6" y1="812" y2="1237.5" stroke="rgba(0,0,0,0.045)" stroke-width="1.4"/>
<line x1="897.3" x2="897.3" y1="812" y2="1237.5" stroke="rgba(0,0,0,0.045)" stroke-width="1.4"/>
<line x1="959" x2="959" y1="812" y2="1237.5" stroke="rgba(0,0,0,0.045)" stroke-width="1.4"/>
<line x1="1020.7" x2="1020.7" y1="812" y2="1237.5" stroke="rgba(0,0,0,0.045)" stroke-width="1.4"/>
<line x1="1082.4" x2="1082.4" y1="812" y2="1237.5" stroke="rgba(0,0,0,0.045)" stroke-width="1.4"/>
<line x1="1144.1" x2="1144.1" y1="812" y2="1237.5" stroke="rgba(0,0,0,0.045)" stroke-width="1.4"/>
<line x1="1205.8" x2="1205.8" y1="812" y2="1237.5" stroke="rgba(0,0,0,0.045)" stroke-width="1.4"/>
<line x1="1267.5" x2="1267.5" y1="812" y2="1237.5" stroke="rgba(0,0,0,0.045)" stroke-width="1.4"/>
<line x1="1329.2" x2="1329.2" y1="812" y2="1237.5" stroke="rgba(0,0,0,0.045)" stroke-width="1.4"/>
<line x1="1390.9" x2="1390.9" y1="812" y2="1237.5" stroke="rgba(0,0,0,0.045)" stroke-width="1.4"/>
<line x1="1452.6" x2="1452.6" y1="812" y2="1237.5" stroke="rgba(0,0,0,0.045)" stroke-width="1.4"/>
<line x1="1514.3" x2="1514.3" y1="812" y2="1237.5" stroke="rgba(0,0,0,0.045)" stroke-width="1.4"/>
<line x1="1576" x2="1576" y1="812" y2="1237.5" stroke="rgba(0,0,0,0.045)" stroke-width="1.4"/>
</svg>
<div class="xl" style="left:302px;top:1260px">2006</div>
<div class="xl" style="left:363.7px;top:1260px">2007</div>
<div class="xl" style="left:425.4px;top:1260px">2008</div>
<div class="xl" style="left:487.1px;top:1260px">2009</div>
<div class="xl" style="left:548.8px;top:1260px">20<span class="o">1</span>0</div>
<div class="xl" style="left:610.5px;top:1260px">20<span class="o">1</span><span class="o">1</span></div>
<div class="xl" style="left:672.2px;top:1260px">20<span class="o">1</span>2</div>
<div class="xl" style="left:733.9px;top:1260px">20<span class="o">1</span>3</div>
<div class="xl" style="left:795.6px;top:1260px">20<span class="o">1</span>4</div>
<div class="xl" style="left:857.3px;top:1260px">20<span class="o">1</span>5</div>
<div class="xl" style="left:919px;top:1260px">20<span class="o">1</span>6</div>
<div class="xl" style="left:980.7px;top:1260px">20<span class="o">1</span>7</div>
<div class="xl" style="left:1042.4px;top:1260px">20<span class="o">1</span>8</div>
<div class="xl" style="left:1104.1px;top:1260px">20<span class="o">1</span>9</div>
<div class="xl" style="left:1165.8px;top:1260px">2020</div>
<div class="xl" style="left:1227.5px;top:1260px">202<span class="o">1</span></div>
<div class="xl" style="left:1289.2px;top:1260px">2022</div>
<div class="xl" style="left:1350.9px;top:1260px">2023</div>
<div class="xl" style="left:1412.6px;top:1260px">2024</div>
<div class="xl" style="left:1474.3px;top:1260px">2025</div>
<div class="xl" style="left:1536px;top:1260px">2026</div>
<div class="abs" style="left:67px;top:1262px;width:1785px;height:28px;background:linear-gradient(to bottom,rgba(0,0,0,0),rgba(0,0,0,0.022))"></div>

<!-- header -->
<div class="hdr">
</div>
<div class="title">플렉서블 디스플레이 기술 동향 보고서</div>
<div class="btn btn1">
  <svg style="position:absolute;left:18px;top:12px" width="20" height="20" viewBox="0 0 20 20">
    <path d="M10,1.5V14 M5,9 L10,14 L15,9 M2,12V18H18V12" fill="none" stroke="#444" stroke-width="1.9"/>
  </svg>
  <span style="position:absolute;left:46px;top:11px;line-height:20px;letter-spacing:-0.6px;color:#222">특허 목록 다운로드</span>
</div>
<div class="btn btn2">
  <svg style="position:absolute;left:18.5px;top:13.3px" width="22" height="18" viewBox="0 0 22 18">
    <rect x="1" y="5.6" width="4.2" height="4.2" fill="none" stroke="#2a9f8e" stroke-width="1.8"/>
    <path d="M5.2,7.7H9 M9,7.7 C10,4.5 11,3 13.5,2.8 M9,7.7 C10,11 11,12.4 13.5,12.6" fill="none" stroke="#2a9f8e" stroke-width="1.6"/>
    <rect x="13" y="0.2" width="6.2" height="5.5" rx="1.5" fill="#2a9f8e"/>
    <rect x="13" y="9.7" width="6.2" height="5.5" rx="1.5" fill="#2a9f8e"/>
  </svg>
  <span style="position:absolute;left:46px;top:11px;line-height:20px;letter-spacing:-0.9px;color:#14927f">기술트리</span>
</div>
<svg class="abs" style="left:1832px;top:25px" width="24" height="24" viewBox="0 0 24 24">
  <path d="M4,4 L20.5,20.5 M20.5,4 L4,20.5" stroke="#9b9b9b" stroke-width="1.6" fill="none"/>
</svg>

</body>
</html>
